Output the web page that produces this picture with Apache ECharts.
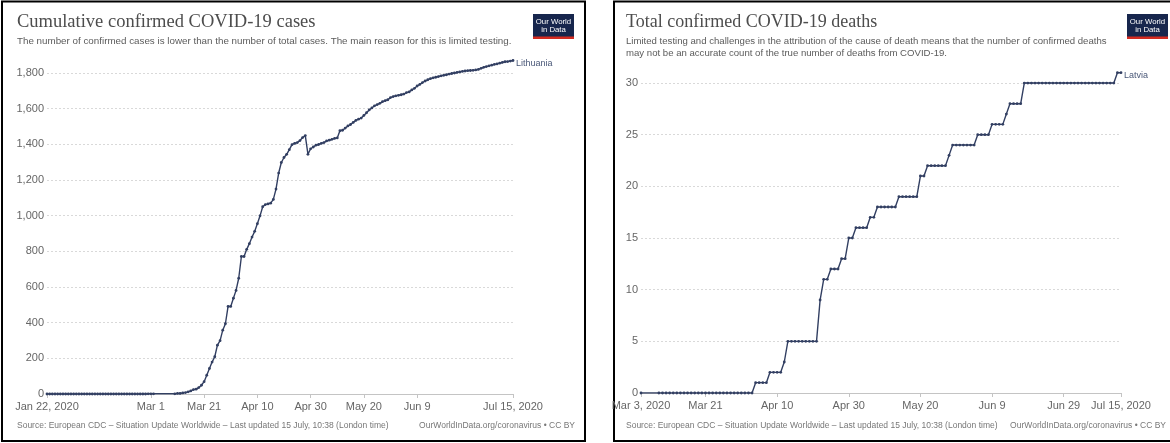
<!DOCTYPE html>
<html><head><meta charset="utf-8">
<script src="https://cdn.jsdelivr.net/npm/echarts@6/dist/echarts.min.js"></script>
<style>html,body{margin:0;padding:0;background:#fff}#c{width:1170px;height:443px}</style>
</head><body><div id="c"></div>
<script>
// ---------- data ----------
const casesStartDate = '2020-01-22';
const casesCount = 176;
const casesTickIndex = [0, 39, 59, 79, 99, 119, 139, 175];
const casesTickLabels = ['Jan 22, 2020', 'Mar 1', 'Mar 21', 'Apr 10', 'Apr 30', 'May 20', 'Jun 9', 'Jul 15, 2020'];
const lithuaniaCases = [
  0,0,0,0,0,0,0,0,0,0, 0,0,0,0,0,0,0,0,0,0, 0,0,0,0,0,0,0,0,0,0, 0,0,0,0,0,0,0,0,
  1,1,1,
  null,null,null,null,null,null,null,
  1,3,3,6,8,12,17,25,27,36,49,69,105,143,179,209,274,299,358,394,
  491,491,537,581,649,771,771,811,843,880,912,955,999,1050,1062,1066,1070,1091,1149,1239,
  1298,1326,1344,1370,1398,1405,1410,1421,1438,1449,1344,1375,1385,1395,1399,1405,1410,1419,1423,1428,
  1433,1436,1476,1479,1491,1503,1511,1523,1534,1541,1547,1562,1577,1593,1604,1616,1623,1630,1639,1645,
  1650,1662,1668,1672,1675,1678,1682,1690,1694,1705,1714,1727,1736,1746,1755,1762,1768,1773,1776,1780,
  1784,1787,1790,1794,1797,1800,1803,1806,1809,1811,1813,1814,1815,1817,1820,1826,1832,1836,1840,1844,
  1848,1851,1855,1859,1863,1864,1867,1870
];
const casesYMax = 1870;
const casesYTicks = 200;

const deathsStartDate = '2020-03-03';
const deathsCount = 135;
const deathsTickIndex = [0, 18, 38, 58, 78, 98, 118, 134];
const deathsTickLabels = ['Mar 3, 2020', 'Mar 21', 'Apr 10', 'Apr 30', 'May 20', 'Jun 9', 'Jun 29', 'Jul 15, 2020'];
const latviaDeaths = [
  0,
  null,null,null,null,
  0,0,0,0,0,0,0,0,0,0, 0,0,0,0,0,0,0,0,0,0, 0,0,0,0,0,0,0,
  1,1,1,1,
  2,2,2,2,
  3,
  5,5,5,5,5,5,5,5,5,
  9,
  11,11,
  12,12,12,
  13,13,
  15,15,
  16,16,16,16,
  17,17,
  18,18,18,18,18,18,
  19,19,19,19,19,19,
  21,21,
  22,22,22,22,22,22,
  23,
  24,24,24,24,24,24,24,
  25,25,25,25,
  26,26,26,26,
  27,
  28,28,28,28,
  30,30,30,30,30,30,30,30,30,30, 30,30,30,30,30,30,30,30,30,30, 30,30,30,30,30,30,
  31,31
];
const deathsYMax = 31;
const deathsYTicks = 5;

// ---------- helpers ----------
function makeDates(start, n) {
  const out = [];
  const d = new Date(start + 'T00:00:00Z');
  for (let i = 0; i < n; i++) {
    const c = new Date(d.getTime() + i * 86400000);
    out.push(c.toISOString().slice(0, 10));
  }
  return out;
}
const casesDates = makeDates(casesStartDate, casesCount);
const deathsDates = makeDates(deathsStartDate, deathsCount);

const LINE = '#323f62';
const LABEL = '#666666';
const SANS = 'Liberation Sans, Arial, sans-serif';
const SERIF = 'Liberation Serif, Times New Roman, serif';

function xAxisCfg(gridIndex, cats, idx, labs) {
  const pick = (i) => idx.indexOf(i) >= 0;
  return {
    type: 'category', gridIndex: gridIndex, data: cats, boundaryGap: false,
    axisLine: { show: true, lineStyle: { color: '#c4c4c4', width: 1 } },
    axisTick: { show: true, length: 4, interval: pick, lineStyle: { color: '#c4c4c4' } },
    axisLabel: {
      interval: pick, color: LABEL, fontSize: 11, fontFamily: SANS, margin: 7,
      formatter: (v, i) => labs[idx.indexOf(i)]
    },
    splitLine: { show: false }
  };
}
function yAxisCfg(gridIndex, max, interval, fmt) {
  return {
    type: 'value', gridIndex: gridIndex, min: 0, max: max, interval: interval,
    axisLine: { show: false }, axisTick: { show: false },
    axisLabel: { color: LABEL, fontSize: 11, fontFamily: SANS, margin: 3, showMaxLabel: false, formatter: fmt },
    splitLine: { show: true, showMinLine: false, showMaxLine: false, lineStyle: { color: '#d9d9d9', width: 1, type: [2, 2] } }
  };
}
function seriesCfg(name, xi, data) {
  return {
    type: 'line', name: name, xAxisIndex: xi, yAxisIndex: xi, data: data,
    connectNulls: true, showSymbol: true, showAllSymbol: true, symbol: 'circle', symbolSize: 2.8,
    lineStyle: { color: LINE, width: 1.4 }, itemStyle: { color: LINE },
    endLabel: { show: true, formatter: name, color: '#4a5878', fontSize: 9, fontFamily: SANS, distance: 3, offset: [0, 3] },
    emphasis: { disabled: true }, animation: false
  };
}
function logo(x, y) {
  return {
    type: 'group', x: x, y: y, children: [
      { type: 'rect', shape: { x: 0, y: 0, width: 41, height: 25 }, style: { fill: '#17264d' } },
      { type: 'rect', shape: { x: 0, y: 22.5, width: 41, height: 2.5 }, style: { fill: '#d42b21' } },
      { type: 'text', x: 20.5, y: 7.5, style: { text: 'Our World', fill: '#fff', font: '7.8px ' + SANS, align: 'center', verticalAlign: 'middle' } },
      { type: 'text', x: 20.5, y: 16, style: { text: 'in Data', fill: '#fff', font: '7.8px ' + SANS, align: 'center', verticalAlign: 'middle' } }
    ]
  };
}
function txt(x, y, s, font, color, align) {
  return { type: 'text', x: x, y: y, style: { text: s, font: font, fill: color, align: align || 'left', verticalAlign: 'middle' } };
}
const sourceText = 'Source: European CDC – Situation Update Worldwide – Last updated 15 July, 10:38 (London time)';
const creditText = 'OurWorldInData.org/coronavirus • CC BY';

const chart = echarts.init(document.getElementById('c'));
chart.setOption({
  animation: false,
  backgroundColor: '#fff',
  grid: [
    { left: 47, top: 60.5, width: 466, height: 333.5 },
    { left: 641, top: 72.7, width: 480, height: 320.3 }
  ],
  xAxis: [
    xAxisCfg(0, casesDates, casesTickIndex, casesTickLabels),
    xAxisCfg(1, deathsDates, deathsTickIndex, deathsTickLabels)
  ],
  yAxis: [
    yAxisCfg(0, casesYMax, casesYTicks, (v) => v.toLocaleString('en-US')),
    yAxisCfg(1, deathsYMax, deathsYTicks, (v) => String(v))
  ],
  series: [
    seriesCfg('Lithuania', 0, lithuaniaCases),
    seriesCfg('Latvia', 1, latviaDeaths)
  ],
  graphic: [
    { type: 'rect', shape: { x: 2, y: 1.5, width: 583, height: 439.5 }, style: { fill: 'none', stroke: '#000', lineWidth: 2 } },
    { type: 'rect', shape: { x: 614, y: 1.5, width: 570, height: 439.5 }, style: { fill: 'none', stroke: '#000', lineWidth: 2 } },
    logo(533, 14),
    logo(1127, 14),
    txt(17, 22, 'Cumulative confirmed COVID-19 cases', '18.5px ' + SERIF, '#4d4d4d'),
    txt(17, 41, 'The number of confirmed cases is lower than the number of total cases. The main reason for this is limited testing.', '9.8px ' + SANS, '#5b5b5b'),
    txt(626, 22, 'Total confirmed COVID-19 deaths', '18px ' + SERIF, '#4d4d4d'),
    txt(626, 41, 'Limited testing and challenges in the attribution of the cause of death means that the number of confirmed deaths', '9.6px ' + SANS, '#5b5b5b'),
    txt(626, 53, 'may not be an accurate count of the true number of deaths from COVID-19.', '9.6px ' + SANS, '#5b5b5b'),
    txt(17, 426, sourceText, '8.5px ' + SANS, '#777'),
    txt(575, 426, creditText, '8.5px ' + SANS, '#777', 'right'),
    txt(626, 426, sourceText, '8.5px ' + SANS, '#777'),
    txt(1166, 426, creditText, '8.5px ' + SANS, '#777', 'right')
  ]
});
</script>
</body></html>
